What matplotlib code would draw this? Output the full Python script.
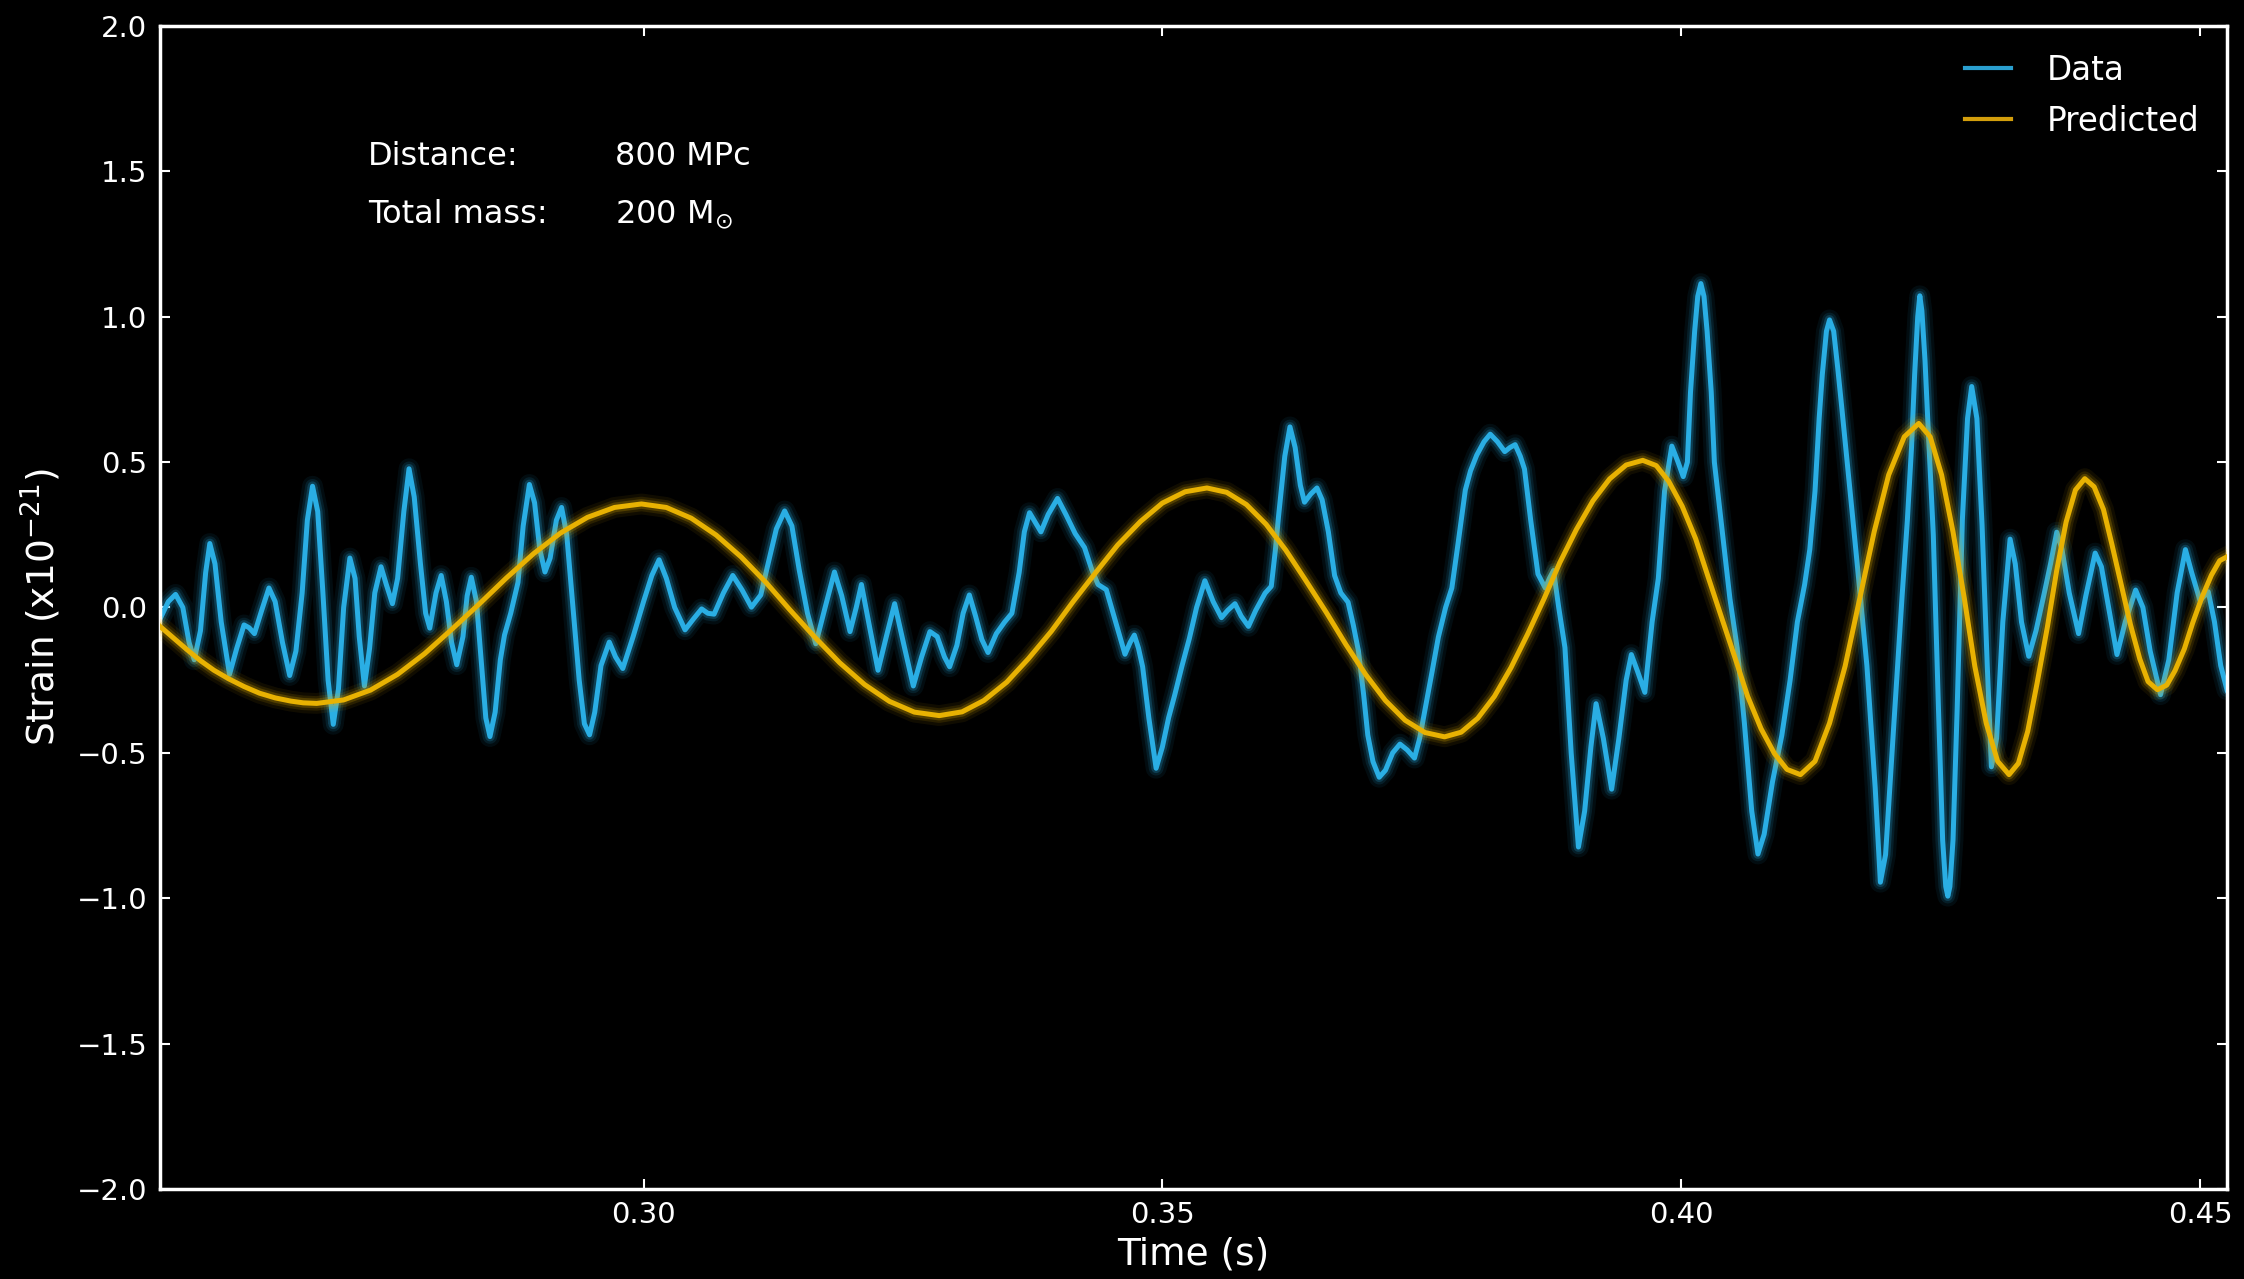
import matplotlib
matplotlib.use("Agg")
import matplotlib.pyplot as plt
from matplotlib.lines import Line2D

data_t = [0.2534, 0.2542, 0.2549, 0.2556, 0.2562, 0.2567, 0.2573, 0.2578, 0.2582, 0.2587,
          0.2593, 0.2601, 0.2608, 0.2615, 0.2620, 0.2625, 0.2632, 0.2639, 0.2645, 0.2652,
          0.2659, 0.2665, 0.2671, 0.2676, 0.2681, 0.2686, 0.2691, 0.2696, 0.2701, 0.2706,
          0.2711, 0.2717, 0.2722, 0.2726, 0.2731, 0.2736, 0.2741, 0.2747, 0.2752, 0.2758,
          0.2763, 0.2769, 0.2774, 0.2779, 0.2785, 0.2790, 0.2794, 0.2800, 0.2805, 0.2810,
          0.2815, 0.2820, 0.2826, 0.2830, 0.2834, 0.2839, 0.2844, 0.2848, 0.2852, 0.2857,
          0.2862, 0.2866, 0.2872, 0.2879, 0.2884, 0.2890, 0.2895, 0.2900, 0.2905, 0.2910,
          0.2916, 0.2921, 0.2926, 0.2932, 0.2938, 0.2943, 0.2948, 0.2953, 0.2959, 0.2967,
          0.2973, 0.2980, 0.2990, 0.3000, 0.3008, 0.3015, 0.3022, 0.3030, 0.3040, 0.3048,
          0.3056, 0.3062, 0.3068, 0.3077, 0.3086, 0.3095, 0.3104, 0.3113, 0.3120, 0.3128,
          0.3136, 0.3143, 0.3150, 0.3158, 0.3166, 0.3175, 0.3184, 0.3191, 0.3199, 0.3205,
          0.3210, 0.3218, 0.3226, 0.3234, 0.3242, 0.3251, 0.3260, 0.3268, 0.3276, 0.3283,
          0.3290, 0.3295, 0.3302, 0.3308, 0.3314, 0.3320, 0.3326, 0.3332, 0.3340, 0.3348,
          0.3355, 0.3362, 0.3367, 0.3372, 0.3378, 0.3383, 0.3390, 0.3399, 0.3407, 0.3416,
          0.3425, 0.3432, 0.3438, 0.3446, 0.3455, 0.3464, 0.3469, 0.3473, 0.3477, 0.3481,
          0.3487, 0.3494, 0.3500, 0.3506, 0.3512, 0.3519, 0.3526, 0.3533, 0.3541, 0.3549,
          0.3557, 0.3563, 0.3570, 0.3576, 0.3583, 0.3590, 0.3599, 0.3605, 0.3609, 0.3612,
          0.3618, 0.3623, 0.3628, 0.3633, 0.3637, 0.3643, 0.3649, 0.3654, 0.3660, 0.3666,
          0.3672, 0.3679, 0.3684, 0.3689, 0.3694, 0.3698, 0.3703, 0.3709, 0.3715, 0.3722,
          0.3729, 0.3736, 0.3743, 0.3748, 0.3753, 0.3760, 0.3766, 0.3773, 0.3779, 0.3785,
          0.3792, 0.3797, 0.3803, 0.3810, 0.3816, 0.3823, 0.3830, 0.3835, 0.3840, 0.3845,
          0.3849, 0.3855, 0.3862, 0.3869, 0.3873, 0.3877, 0.3882, 0.3888, 0.3894, 0.3901,
          0.3907, 0.3913, 0.3918, 0.3925, 0.3933, 0.3940, 0.3947, 0.3952, 0.3958, 0.3965,
          0.3972, 0.3978, 0.3984, 0.3991, 0.3997, 0.4002, 0.4006, 0.4009, 0.4013, 0.4016,
          0.4019, 0.4022, 0.4025, 0.4029, 0.4032, 0.4040, 0.4047, 0.4054, 0.4061, 0.4068,
          0.4074, 0.4080, 0.4088, 0.4097, 0.4105, 0.4112, 0.4119, 0.4124, 0.4129, 0.4133,
          0.4136, 0.4140, 0.4143, 0.4147, 0.4151, 0.4155, 0.4160, 0.4165, 0.4171, 0.4179,
          0.4187, 0.4192, 0.4197, 0.4205, 0.4213, 0.4218, 0.4222, 0.4225, 0.4228, 0.4230,
          0.4232, 0.4235, 0.4238, 0.4243, 0.4248, 0.4252, 0.4255, 0.4257, 0.4259, 0.4262,
          0.4266, 0.4271, 0.4276, 0.4280, 0.4285, 0.4290, 0.4295, 0.4299, 0.4304, 0.4310,
          0.4317, 0.4322, 0.4328, 0.4335, 0.4342, 0.4350, 0.4356, 0.4362, 0.4367, 0.4374,
          0.4383, 0.4390, 0.4399, 0.4405, 0.4412, 0.4420, 0.4428, 0.4438, 0.4445, 0.4452,
          0.4462, 0.4470, 0.4478, 0.4486, 0.4492, 0.4500, 0.4508, 0.4514, 0.4520, 0.4526]
data_h = [-0.04, 0.02, 0.045, 0.00, -0.12, -0.18, -0.08, 0.12, 0.22, 0.15,
          -0.05, -0.23, -0.14, -0.06, -0.07, -0.09, -0.01, 0.067, 0.02, -0.12,
          -0.234, -0.15, 0.05, 0.30, 0.417, 0.33, 0.05, -0.25, -0.402, -0.28,
          0.00, 0.170, 0.10, -0.10, -0.270, -0.14, 0.05, 0.140, 0.08, 0.013,
          0.10, 0.33, 0.477, 0.38, 0.15, -0.02, -0.071, 0.05, 0.110, 0.02,
          -0.12, -0.197, -0.10, 0.04, 0.104, 0.02, -0.20, -0.38, -0.444, -0.36,
          -0.18, -0.095, -0.02, 0.086, 0.28, 0.423, 0.36, 0.20, 0.122, 0.17,
          0.30, 0.344, 0.25, 0.00, -0.25, -0.40, -0.438, -0.36, -0.20, -0.119,
          -0.17, -0.21, -0.10, 0.02, 0.11, 0.164, 0.10, 0.00, -0.077, -0.04,
          -0.005, -0.02, -0.023, 0.05, 0.110, 0.06, 0.001, 0.043, 0.15, 0.27,
          0.332, 0.28, 0.13, -0.02, -0.125, 0.00, 0.122, 0.04, -0.083, 0.00,
          0.079, -0.07, -0.216, -0.10, 0.013, -0.13, -0.270, -0.17, -0.083, -0.10,
          -0.17, -0.204, -0.13, -0.02, 0.043, -0.03, -0.11, -0.155, -0.09, -0.05,
          -0.02, 0.12, 0.26, 0.326, 0.29, 0.260, 0.32, 0.375, 0.32, 0.254,
          0.206, 0.13, 0.079, 0.061, -0.05, -0.161, -0.12, -0.095, -0.14, -0.204,
          -0.38, -0.553, -0.48, -0.38, -0.300, -0.20, -0.107, 0.00, 0.092, 0.02,
          -0.035, -0.01, 0.013, -0.03, -0.065, -0.01, 0.049, 0.073, 0.20, 0.314,
          0.52, 0.621, 0.55, 0.42, 0.362, 0.39, 0.411, 0.37, 0.26, 0.11,
          0.05, 0.018, -0.06, -0.150, -0.30, -0.439, -0.53, -0.584, -0.56, -0.50,
          -0.470, -0.49, -0.518, -0.45, -0.355, -0.22, -0.102, 0.00, 0.067, 0.22,
          0.404, 0.47, 0.524, 0.57, 0.596, 0.57, 0.536, 0.55, 0.560, 0.52,
          0.476, 0.30, 0.115, 0.067, 0.10, 0.127, 0.00, -0.138, -0.50, -0.824,
          -0.70, -0.48, -0.331, -0.45, -0.625, -0.45, -0.25, -0.162, -0.22, -0.292,
          -0.05, 0.10, 0.40, 0.555, 0.50, 0.450, 0.50, 0.74, 0.95, 1.07,
          1.114, 1.07, 0.95, 0.74, 0.50, 0.25, 0.03, -0.14, -0.40, -0.70,
          -0.848, -0.78, -0.60, -0.44, -0.25, -0.05, 0.079, 0.20, 0.40, 0.65,
          0.80, 0.95, 0.989, 0.95, 0.82, 0.68, 0.50, 0.32, 0.10, -0.20,
          -0.62, -0.945, -0.85, -0.40, 0.043, 0.30, 0.55, 0.80, 1.00, 1.072,
          1.02, 0.85, 0.62, 0.25, -0.35, -0.80, -0.96, -0.993, -0.96, -0.80,
          -0.35, 0.30, 0.65, 0.76, 0.65, 0.283, -0.20, -0.548, -0.45, -0.05,
          0.235, 0.15, -0.05, -0.168, -0.08, 0.05, 0.15, 0.259, 0.20, 0.05,
          -0.09, 0.04, 0.187, 0.14, 0.00, -0.162, -0.05, 0.06, 0.00, -0.15,
          -0.30, -0.18, 0.05, 0.199, 0.12, 0.024, 0.054, -0.05, -0.20, -0.283]

# predicted waveform
pred_t = [0.2534, 0.2547, 0.2560, 0.2573, 0.2586, 0.2600, 0.2615, 0.2630, 0.2645, 0.2660, 0.2672, 0.2685,
          0.2711, 0.2737, 0.2763, 0.2789, 0.2815, 0.2842, 0.2868, 0.2894, 0.2920, 0.2946, 0.2972, 0.2998,
          0.3022, 0.3046, 0.3070, 0.3094, 0.3118, 0.3141, 0.3165, 0.3189, 0.3213, 0.3237, 0.3261, 0.3285,
          0.3307, 0.3328, 0.3350, 0.3371, 0.3393, 0.3414, 0.3436, 0.3457, 0.3479, 0.3500, 0.3522, 0.3543,
          0.3562, 0.3581, 0.3600, 0.3619, 0.3638, 0.3658, 0.3677, 0.3696, 0.3715, 0.3734, 0.3753, 0.3772,
          0.3788, 0.3804, 0.3820, 0.3836, 0.3852, 0.3868, 0.3883, 0.3899, 0.3915, 0.3931, 0.3947, 0.3963,
          0.3976, 0.3988, 0.4001, 0.4014, 0.4026, 0.4039, 0.4052, 0.4064, 0.4077, 0.4090, 0.4102, 0.4115,
          0.4129, 0.4143, 0.4158, 0.4172, 0.4186, 0.4200, 0.4215, 0.4229,
          0.4240, 0.4251, 0.4262, 0.4273, 0.4283, 0.4294, 0.4305, 0.4316,
          0.4325, 0.4334, 0.4343, 0.4353, 0.4362, 0.4371, 0.4380, 0.4389,
          0.4398, 0.4407, 0.4415, 0.4424, 0.4433, 0.4442, 0.4450, 0.4459,
          0.4468, 0.4476, 0.4485, 0.4493, 0.4502, 0.4511, 0.4519, 0.4528]
pred_h = [-0.065, -0.105, -0.145, -0.183, -0.216, -0.245, -0.272, -0.295, -0.311, -0.322, -0.328, -0.330,
          -0.318, -0.284, -0.230, -0.159, -0.076, 0.013, 0.102, 0.185, 0.256, 0.310, 0.344, 0.356,
          0.344, 0.307, 0.249, 0.174, 0.086, -0.008, -0.102, -0.190, -0.265, -0.323, -0.360, -0.372,
          -0.359, -0.320, -0.257, -0.176, -0.082, 0.020, 0.121, 0.215, 0.296, 0.359, 0.398, 0.411,
          0.396, 0.354, 0.286, 0.197, 0.094, -0.017, -0.128, -0.231, -0.320, -0.388, -0.430, -0.445,
          -0.429, -0.381, -0.306, -0.207, -0.092, 0.031, 0.154, 0.268, 0.367, 0.442, 0.490, 0.506,
          0.488, 0.434, 0.348, 0.236, 0.105, -0.035, -0.174, -0.305, -0.417, -0.503, -0.557, -0.575,
          -0.529, -0.398, -0.202, 0.029, 0.260, 0.456, 0.587, 0.633,
          0.587, 0.456, 0.260, 0.029, -0.202, -0.398, -0.529, -0.575,
          -0.536, -0.426, -0.261, -0.066, 0.129, 0.294, 0.404, 0.443,
          0.415, 0.337, 0.219, 0.080, -0.059, -0.177, -0.255, -0.283,
          -0.267, -0.217, -0.142, -0.053, 0.036, 0.111, 0.161, 0.178]

x_ticks = [0.30, 0.35, 0.40, 0.45]
y_ticks = [-2.0, -1.5, -1.0, -0.5, 0.0, 0.5, 1.0, 1.5, 2.0]

data_color = '#2aaee4'
pred_color = '#e8b202'


def glow_line(ax, x, y, color, z):
    # soft halo first, then the bright core on top
    for lw, a in [(15, 0.07), (10.5, 0.12), (7, 0.22)]:
        ax.plot(x, y, color=color, lw=lw, alpha=a, zorder=z,
                solid_capstyle='round', solid_joinstyle='round')
    ax.plot(x, y, color=color, lw=3.6, zorder=z + 0.5, solid_joinstyle='round')


fig = plt.figure(figsize=(22.44, 12.79), dpi=100, facecolor='black')
ax = fig.add_axes([0.0713, 0.0704, 0.9211, 0.9093], facecolor='black')

glow_line(ax, data_t, data_h, data_color, 2)
glow_line(ax, pred_t, pred_h, pred_color, 3)

ax.set_xlim(0.2534, 0.4526)
ax.set_ylim(-2.0, 2.0)
ax.set_xticks(x_ticks)
ax.set_xticklabels(['%.2f' % v for v in x_ticks])
ax.set_yticks(y_ticks)
ax.set_yticklabels([('%.1f' % v).replace('-', '\u2212') for v in y_ticks])

for sp in ax.spines.values():
    sp.set_color('white')
    sp.set_linewidth(2.5)
ax.tick_params(direction='in', top=True, right=True, length=7, width=1.5,
               colors='white', labelsize=21, pad=9)

ax.set_xlabel('Time (s)', color='white', fontsize=27, labelpad=5)
ax.set_ylabel('Strain (x10$^{-21}$)', color='white', fontsize=27, labelpad=10)

ax.text(0.1006, 0.888, 'Distance:', transform=ax.transAxes, color='white',
        fontsize=23, va='center')
ax.text(0.2201, 0.888, '800 MPc', transform=ax.transAxes, color='white',
        fontsize=23, va='center')
ax.text(0.1006, 0.8375, 'Total mass:', transform=ax.transAxes, color='white',
        fontsize=23, va='center')
ax.text(0.2201, 0.8375, '200 M$_{\\odot}$', transform=ax.transAxes, color='white',
        fontsize=23, va='center')

handles = [Line2D([], [], color='#2a9fcf', lw=3), Line2D([], [], color='#d39e0c', lw=3)]
leg = ax.legend(handles, ['Data', 'Predicted'], loc='upper right', frameon=False,
                fontsize=23.5, handlelength=1.4, handletextpad=1.1, labelspacing=0.55,
                borderaxespad=0.45)
for txt in leg.get_texts():
    txt.set_color('white')

fig.savefig('out.png', dpi=100, facecolor='black')
